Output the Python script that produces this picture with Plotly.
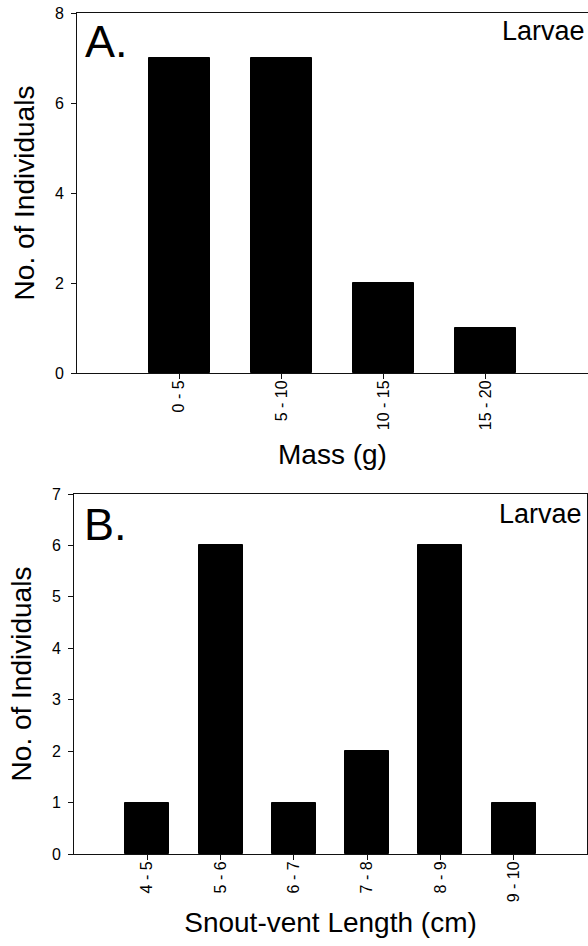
import plotly.graph_objects as go

W, H = 588, 946

mass_bins = ["0 - 5", "5 - 10", "10 - 15", "15 - 20"]
mass_counts = [7, 7, 2, 1]

svl_bins = ["4 - 5", "5 - 6", "6 - 7", "7 - 8", "8 - 9", "9 - 10"]
svl_counts = [1, 6, 1, 2, 6, 1]

mass_yticks = [0, 2, 4, 6, 8]
svl_yticks = [0, 1, 2, 3, 4, 5, 6, 7]

FONT = "Liberation Sans, Arial, sans-serif"
BLACK = "#000000"

fig = go.Figure()
fig.add_trace(go.Bar(x=mass_bins, y=mass_counts, width=0.6, xaxis="x", yaxis="y",
                     marker=dict(color=BLACK, line=dict(color=BLACK, width=1)), showlegend=False))
fig.add_trace(go.Bar(x=svl_bins, y=svl_counts, width=0.6, xaxis="x2", yaxis="y2",
                     marker=dict(color=BLACK, line=dict(color=BLACK, width=1)), showlegend=False))

axis_common = dict(showgrid=False, zeroline=False, showline=True, linecolor="#111111", linewidth=1,
                   ticks="outside", ticklen=5, tickcolor="#111111", tickwidth=1,
                   tickfont=dict(family=FONT, size=16, color=BLACK), automargin=False)

fig.update_layout(
    width=W, height=H,
    margin=dict(l=0, r=0, t=0, b=0),
    paper_bgcolor="white", plot_bgcolor="white",
    font=dict(family=FONT, color=BLACK),
    bargap=0,
    xaxis=dict(axis_common, domain=[77 / W, 1.0], anchor="y", type="category",
               categoryorder="array", categoryarray=mass_bins, range=[-1, 4],
               tickangle=-90, mirror=True, ticklabelstandoff=-5,
               title=dict(text="Mass (g)", font=dict(family=FONT, size=28, color=BLACK), standoff=15)),
    yaxis=dict(axis_common, domain=[1 - 373 / H, 1 - 13 / H], anchor="x", range=[0, 8],
               tickvals=mass_yticks, mirror=False, ticklabelstandoff=4,
               title=dict(text="No. of Individuals", font=dict(family=FONT, size=28, color=BLACK), standoff=12)),
    xaxis2=dict(axis_common, domain=[74 / W, 587 / W], anchor="y2", type="category",
                categoryorder="array", categoryarray=svl_bins, range=[-1, 6],
                tickangle=-90, mirror=True, ticklabelstandoff=-5,
                title=dict(text="Snout-vent Length (cm)", font=dict(family=FONT, size=28, color=BLACK), standoff=11)),
    yaxis2=dict(axis_common, domain=[1 - 854 / H, 1 - 494 / H], anchor="x2", range=[0, 7],
                tickvals=svl_yticks, mirror=True, ticklabelstandoff=4,
                title=dict(text="No. of Individuals", font=dict(family=FONT, size=28, color=BLACK), standoff=12)),
    annotations=[
        dict(text="A.", x=83 / W, y=1 - 41 / H, xref="paper", yref="paper", xanchor="left", yanchor="middle",
             showarrow=False, font=dict(family=FONT, size=45, color=BLACK)),
        dict(text="Larvae", x=587 / W, y=1 - 31 / H, xref="paper", yref="paper", xanchor="right", yanchor="middle",
             showarrow=False, font=dict(family=FONT, size=27, color=BLACK)),
        dict(text="B.", x=82 / W, y=1 - 524 / H, xref="paper", yref="paper", xanchor="left", yanchor="middle",
             showarrow=False, font=dict(family=FONT, size=45, color=BLACK)),
        dict(text="Larvae", x=584 / W, y=1 - 514 / H, xref="paper", yref="paper", xanchor="right", yanchor="middle",
             showarrow=False, font=dict(family=FONT, size=27, color=BLACK)),
    ],
)

fig.write_html("out.html", config={"displayModeBar": False},
               post_script="document.body.style.margin='0';document.body.style.padding='0';"
                           "document.body.style.overflow='hidden';")
